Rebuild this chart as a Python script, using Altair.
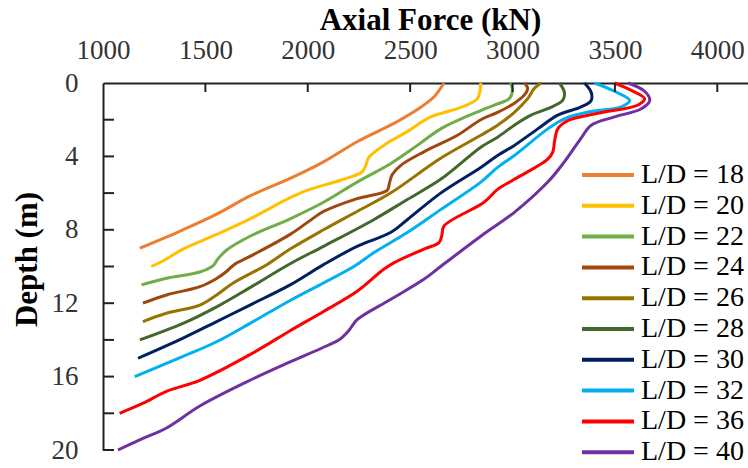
import altair as alt
import pandas as pd

series_names = ["L/D = 18", "L/D = 20", "L/D = 22", "L/D = 24", "L/D = 26",
                "L/D = 28", "L/D = 30", "L/D = 32", "L/D = 36", "L/D = 40"]
colors = ["#ED7D31", "#FFC000", "#70AD47", "#9E480E", "#997300",
          "#43682B", "#002060", "#00B0F0", "#FF0000", "#7030A0"]

depth_18 = [0, 0.75, 1.45, 2.0, 2.3, 3.2, 4.3, 5.2, 6.15, 7.15, 8.0, 9.0]
force_18 = [2665, 2617, 2535, 2453, 2404, 2241, 2077, 1914, 1718, 1555, 1391, 1180]

depth_20 = [0, 0.5, 0.85, 1.05, 1.4, 1.85, 2.65, 3.4, 4.05, 4.5, 4.85, 5.3, 5.85, 6.25, 7.4, 8.25, 9.05, 9.7, 10]
force_20 = [2845, 2840, 2829, 2805, 2731, 2600, 2486, 2371, 2298, 2283, 2265, 2159, 1996, 1914, 1718, 1555, 1391, 1293, 1236]

depth_22 = [0, 0.4, 0.85, 1.2, 1.5, 1.9, 2.5, 3.4, 4.4, 5.4, 6.5, 7.4, 8.35, 9.1, 9.6, 9.95, 10.3, 10.64, 11]
force_22 = [2990, 3000, 2984, 2911, 2845, 2760, 2649, 2535, 2404, 2241, 2077, 1914, 1718, 1604, 1560, 1538, 1473, 1310, 1188]

depth_24 = [0, 0.3, 0.65, 1.1, 1.6, 2.0, 2.85, 3.75, 4.5, 5.0, 5.5, 5.85, 6.3, 7.0, 7.35, 8.25, 9.45, 9.9, 10.3, 10.65, 11.1, 11.55, 12]
force_24 = [3058, 3074, 3058, 3009, 2927, 2845, 2731, 2567, 2453, 2412, 2398, 2388, 2241, 2077, 2029, 1914, 1718, 1640, 1600, 1555, 1473, 1310, 1195]

depth_26 = [0, 0.3, 0.85, 1.6, 2.3, 2.85, 4.1, 6.0, 7.0, 8.0, 9.05, 9.9, 10.9, 11.55, 12.1, 12.55, 13]
force_26 = [3139, 3106, 3074, 3009, 2927, 2845, 2649, 2404, 2241, 2077, 1914, 1800, 1636, 1555, 1473, 1310, 1195]

depth_28 = [0, 0.5, 0.95, 1.4, 1.75, 2.3, 2.95, 3.5, 5.25, 6.35, 7.45, 8.9, 9.85, 11.15, 12.2, 13.1, 14]
force_28 = [3229, 3253, 3245, 3172, 3090, 3009, 2927, 2845, 2649, 2486, 2322, 2077, 1914, 1718, 1555, 1391, 1180]

depth_30 = [0, 0.5, 0.95, 1.3, 1.75, 2.5, 3.4, 3.95, 4.6, 6.0, 7.45, 8.15, 8.9, 9.9, 11.0, 12.1, 13.0, 13.9, 15]
force_30 = [3351, 3384, 3384, 3335, 3221, 3123, 3009, 2927, 2845, 2649, 2486, 2404, 2241, 2077, 1914, 1718, 1555, 1391, 1171]

depth_32 = [0, 0.45, 0.95, 1.3, 1.55, 1.95, 2.5, 3.95, 4.6, 5.4, 6.9, 8.15, 9.25, 10.0, 11.85, 13.1, 14.1, 14.9, 16]
force_32 = [3400, 3498, 3572, 3531, 3384, 3253, 3172, 3009, 2927, 2845, 2649, 2486, 2322, 2225, 1914, 1718, 1555, 1391, 1155]

depth_36 = [0, 0.4, 0.85, 1.2, 1.65, 2.05, 2.5, 3.2, 3.75, 4.15, 5.25, 5.8, 6.5, 7.8, 8.3, 8.7, 9.05, 9.8, 10.15, 11.35, 12.45, 13.5, 14.8, 16.2, 16.8, 17.45, 18]
force_36 = [3498, 3580, 3645, 3613, 3417, 3270, 3221, 3205, 3197, 3172, 3009, 2927, 2861, 2665, 2655, 2641, 2567, 2420, 2371, 2241, 2077, 1914, 1718, 1473, 1310, 1196, 1081]

depth_40 = [0, 0.45, 0.95, 1.4, 1.85, 2.3, 3.0, 4.3, 5.4, 7.05, 8.35, 10.0, 10.7, 11.8, 12.9, 13.5, 13.95, 14.4, 15.2, 16.2, 17.6, 18.8, 19.45, 20]
force_40 = [3564, 3645, 3670, 3629, 3498, 3384, 3335, 3253, 3172, 3009, 2845, 2649, 2567, 2404, 2241, 2200, 2159, 2077, 1914, 1718, 1473, 1310, 1179, 1073]

x_ticks = [1000, 1500, 2000, 2500, 3000, 3500, 4000]
y_ticks = [0, 2, 4, 6, 8, 10, 12, 14, 16, 18, 20]

depths = [depth_18, depth_20, depth_22, depth_24, depth_26, depth_28, depth_30, depth_32, depth_36, depth_40]
forces = [force_18, force_20, force_22, force_24, force_26, force_28, force_30, force_32, force_36, force_40]

rows = []
for name, ds, fs in zip(series_names, depths, forces):
    for d, f in zip(ds, fs):
        rows.append({"series": name, "depth": d, "force": f})
df = pd.DataFrame(rows)

FONT = "Liberation Serif, Times New Roman, serif"
xscale = alt.Scale(domain=[1000, 4150], nice=False, zero=False)
yscale = alt.Scale(domain=[0, 20], reverse=True, nice=False, zero=False)

lines = alt.Chart(df).mark_line(strokeWidth=3, interpolate="catmull-rom").encode(
    x=alt.X("force:Q", scale=xscale,
            axis=alt.Axis(orient="top", values=x_ticks, title="Axial Force (kN)", format="d",
                          ticks=False, tickSize=0, labelPadding=25, labelBaseline="alphabetic",
                          labelFont=FONT, labelFontSize=27, labelColor="#333333",
                          titleFont=FONT, titleFontSize=31, titleFontWeight="bold",
                          titleX=327, titleY=-54, titleAlign="center", titleBaseline="alphabetic")),
    y=alt.Y("depth:Q", scale=yscale,
            axis=alt.Axis(values=y_ticks, title="Depth (m)", ticks=False, tickSize=0, format="d",
                          labelPadding=25, labelFont=FONT, labelFontSize=27, labelColor="#333333",
                          titleFont=FONT, titleFontSize=31, titleFontWeight="bold",
                          titleX=-76, titleY=176, titleAngle=270,
                          titleAlign="center", titleBaseline="middle")),
    color=alt.Color("series:N", scale=alt.Scale(domain=series_names, range=colors),
                    legend=alt.Legend(title=None, orient="none", legendX=491, legendY=78,
                                      symbolType="M-4,0L4,0", symbolSize=169,
                                      symbolStrokeWidth=4, labelFont=FONT, labelFontSize=28,
                                      labelColor="#000000", rowPadding=2.8, labelOffset=19,
                                      labelLimit=0)),
    order=alt.Order("depth:Q"),
)

xt = alt.Chart(pd.DataFrame({"force": x_ticks[1:]})).mark_rule(color="#222222", strokeWidth=2).encode(
    x=alt.X("force:Q", scale=xscale), y=alt.value(0), y2=alt.value(9))
yt = alt.Chart(pd.DataFrame({"depth": y_ticks[1:]})).mark_rule(color="#222222", strokeWidth=2).encode(
    y=alt.Y("depth:Q", scale=yscale), x=alt.value(0), x2=alt.value(11))

chart = alt.layer(lines, xt, yt).properties(
    width=645, height=367,
    padding={"left": 103, "top": 83, "right": 0, "bottom": 18},
    autosize="none",
    background="white",
).configure_view(stroke=None).configure_axis(
    domainColor="#222222", domainWidth=2, labelFont=FONT, labelFontSize=27,
    labelColor="#333333", titleFont=FONT, titleFontSize=31, titleFontWeight="bold",
    titleColor="#000000", grid=False, labelFlush=False, labelOverlap=False,
).configure_legend(labelFont=FONT)

chart.save("out.html", embed_options={"renderer": "svg", "actions": False})
